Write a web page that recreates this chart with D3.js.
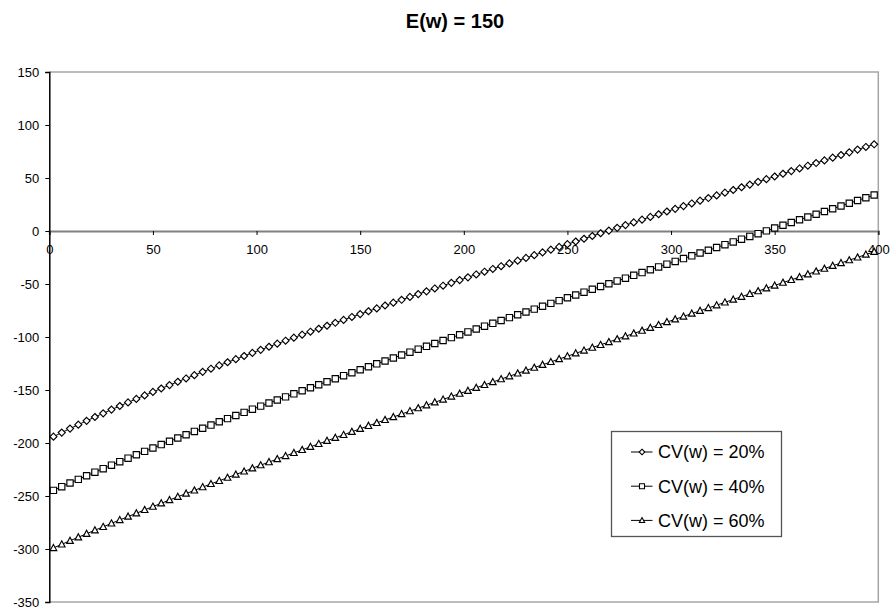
<!DOCTYPE html>
<html>
<head>
<meta charset="utf-8">
<script src="https://cdn.jsdelivr.net/npm/d3@7"></script>
<style>
  body{margin:0;background:#fff}
  svg{display:block;font-family:"Liberation Sans",Arial,sans-serif}
</style>
</head>
<body>
<svg id="chart" width="892" height="612"></svg>
<script>
const title="E(w) = 150"
const xs=[2,6,10,14,18,22,26,30,34,38,42,46,50,54,58,62,66,70,74,78,82,86,90,94,98,
  102,106,110,114,118,122,126,130,134,138,142,146,150,154,158,162,166,170,174,178,182,186,190,194,198,
  202,206,210,214,218,222,226,230,234,238,242,246,250,254,258,262,266,270,274,278,282,286,290,294,298,
  302,306,310,314,318,322,326,330,334,338,342,346,350,354,358,362,366,370,374,378,382,386,390,394,398]
const cv20=[-194.0,-190.2,-186.4,-182.7,-179.1,-175.5,-172.0,-168.5,-165.1,-161.7,-158.4,-155.1,-151.8,-148.6,-145.4,-142.2,-139.1,-136.0,-132.9,-129.9,-126.8,-123.8,-120.9,-117.9,-115.0,
  -112.1,-109.2,-106.3,-103.5,-100.6,-97.8,-95.0,-92.2,-89.4,-86.6,-83.9,-81.1,-78.4,-75.7,-73.0,-70.3,-67.6,-64.9,-62.2,-59.5,-56.9,-54.2,-51.6,-48.9,-46.3,
  -43.7,-41.0,-38.4,-35.8,-33.2,-30.6,-28.0,-25.4,-22.8,-20.2,-17.6,-15.0,-12.4,-9.9,-7.3,-4.7,-2.1,0.4,3.0,5.6,8.1,10.7,13.3,15.8,18.4,
  20.9,23.5,26.0,28.6,31.1,33.6,36.2,38.7,41.3,43.8,46.4,48.9,51.4,54.0,56.5,59.0,61.6,64.1,66.6,69.2,71.7,74.2,76.8,79.3,81.8]
const cv40=[-244.7,-241.2,-237.7,-234.3,-230.9,-227.5,-224.2,-220.9,-217.6,-214.3,-211.1,-207.9,-204.7,-201.5,-198.4,-195.3,-192.2,-189.1,-186.1,-183.1,-180.0,-177.0,-174.1,-171.1,-168.1,
  -165.2,-162.3,-159.4,-156.5,-153.6,-150.7,-147.9,-145.0,-142.2,-139.4,-136.5,-133.7,-130.9,-128.1,-125.3,-122.6,-119.8,-117.0,-114.3,-111.5,-108.8,-106.1,-103.3,-100.6,-97.9,
  -95.2,-92.5,-89.8,-87.1,-84.4,-81.7,-79.0,-76.4,-73.7,-71.0,-68.3,-65.7,-63.0,-60.4,-57.7,-55.0,-52.4,-49.8,-47.1,-44.5,-41.8,-39.2,-36.6,-33.9,-31.3,
  -28.7,-26.0,-23.4,-20.8,-18.2,-15.6,-12.9,-10.3,-7.7,-5.1,-2.5,0.1,2.8,5.4,8.0,10.6,13.2,15.8,18.4,21.0,23.6,26.2,28.8,31.4,34.0]
const cv60=[-299.0,-295.6,-292.2,-288.9,-285.6,-282.3,-279.1,-275.8,-272.6,-269.4,-266.3,-263.1,-260.0,-256.9,-253.8,-250.7,-247.7,-244.7,-241.6,-238.6,-235.7,-232.7,-229.7,-226.8,-223.8,
  -220.9,-218.0,-215.1,-212.2,-209.3,-206.5,-203.6,-200.8,-197.9,-195.1,-192.3,-189.4,-186.6,-183.8,-181.0,-178.2,-175.5,-172.7,-169.9,-167.1,-164.4,-161.6,-158.9,-156.1,-153.4,
  -150.7,-147.9,-145.2,-142.5,-139.7,-137.0,-134.3,-131.6,-128.9,-126.2,-123.5,-120.8,-118.1,-115.4,-112.7,-110.0,-107.4,-104.7,-102.0,-99.3,-96.6,-94.0,-91.3,-88.6,-85.9,
  -83.3,-80.6,-77.9,-75.3,-72.6,-70.0,-67.3,-64.6,-62.0,-59.3,-56.7,-54.0,-51.4,-48.7,-46.1,-43.4,-40.8,-38.1,-35.5,-32.8,-30.2,-27.5,-24.9,-22.2,-19.6]
const seriesNames=["CV(w) = 20%","CV(w) = 40%","CV(w) = 60%"]
const markers=["diamond","square","triangle"]
const xTicks=[0,50,100,150,200,250,300,350,400]
const yTicks=[-350,-300,-250,-200,-150,-100,-50,0,50,100,150]

const series=[cv20,cv40,cv60].map((vals,i)=>({
  name:seriesNames[i],
  marker:markers[i],
  points:vals.map((v,j)=>[xs[j],v])
}))

const svg=d3.select("#chart")
const xscale=d3.scaleLinear().domain([0,400]).range([49.3,878.3])
const yscale=d3.scaleLinear().domain([-350,150]).range([602,72])

function markerPath(type,s){
  if(type==="diamond") return `M0,${-s}L${s},0L0,${s}L${-s},0Z`
  if(type==="square") return `M${-s*0.9},${-s*0.9}H${s*0.9}V${s*0.9}H${-s*0.9}Z`
  return `M0,${-s}L${s*0.95},${s*0.75}L${-s*0.95},${s*0.75}Z`
}

svg.append("text")
  .attr("x",455)
  .attr("y",27.5)
  .attr("text-anchor","middle")
  .style("font-size","20px")
  .style("font-weight","bold")
  .text(title)

// plot frame
svg.append("path")
  .attr("d",`M${xscale(0)},${yscale(150)}H${xscale(400)}V${yscale(-350)}H${xscale(0)}`)
  .attr("fill","none")
  .attr("stroke","#a6a6a6")
  .attr("stroke-width",1.5)

const xaxis=d3.axisBottom(xscale).tickValues(xTicks).tickSize(4).tickPadding(10).tickFormat(d=>String(d))
const gx=svg.append("g")
  .attr("transform",`translate(0,${yscale(0)})`)
  .call(xaxis)
gx.select(".domain").attr("stroke","#808080").attr("stroke-width",2)
gx.selectAll(".tick line").attr("stroke","#000")
gx.selectAll(".tick text").attr("fill","#000").style("font-size","13px")

const yaxis=d3.axisLeft(yscale).tickValues(yTicks).tickSize(4).tickPadding(6).tickFormat(d=>String(d))
const gy=svg.append("g")
  .attr("transform",`translate(${xscale(0)},0)`)
  .call(yaxis)
gy.select(".domain").attr("stroke","#000").attr("stroke-width",1.5)
gy.selectAll(".tick text").attr("fill","#000").style("font-size","13px")

const line=d3.line().x(d=>xscale(d[0])).y(d=>yscale(d[1]))

series.forEach(s=>{
  svg.append("path")
    .datum(s.points)
    .attr("d",line)
    .attr("fill","none")
    .attr("stroke","#000")
    .attr("stroke-width",1)
  svg.append("g").selectAll("path")
    .data(s.points)
    .enter()
    .append("path")
    .attr("transform",d=>`translate(${xscale(d[0])},${yscale(d[1])})`)
    .attr("d",markerPath(s.marker,3.5))
    .attr("fill","#fff")
    .attr("stroke","#000")
    .attr("stroke-width",1.15)
})

const legend=svg.append("g")
legend.append("rect")
  .attr("x",611.5)
  .attr("y",431.5)
  .attr("width",170)
  .attr("height",105)
  .attr("fill","#fff")
  .attr("stroke","#555")
  .attr("stroke-width",1.3)
const items=legend.selectAll(".item")
  .data(series)
  .enter()
  .append("g")
  .attr("class","item")
  .attr("transform",(d,i)=>`translate(0,${452+i*34.2})`)
items.append("line")
  .attr("x1",631).attr("x2",652.5)
  .attr("stroke","#000").attr("stroke-width",1)
items.append("path")
  .attr("transform","translate(642,0)")
  .attr("d",d=>markerPath(d.marker,2.8))
  .attr("fill","#fff").attr("stroke","#000").attr("stroke-width",1.1)
items.append("text")
  .attr("x",658)
  .attr("dy","0.36em")
  .style("font-size","18px")
  .text(d=>d.name)
</script>
</body>
</html>
